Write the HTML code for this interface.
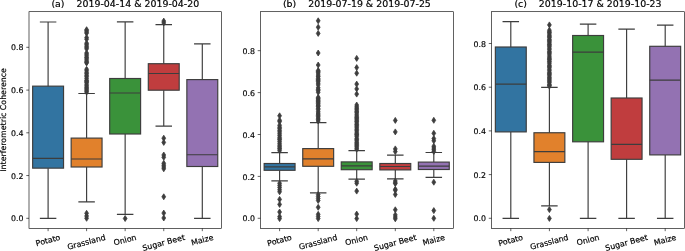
<!DOCTYPE html>
<html><head><meta charset="utf-8"><title>Interferometric Coherence boxplots</title>
<style>html,body{margin:0;padding:0;background:#fff}svg{display:block}</style></head>
<body>
<svg width="685" height="251" viewBox="0 0 685 251" font-family="'DejaVu Sans', 'Liberation Sans', sans-serif">
<rect width="685" height="251" fill="#fff"/>
<style>text{stroke:#000;stroke-width:0.18px;fill:#000}</style>
<defs><path id="d" d="M0 -3.0 L1.9 0 L0 3.0 L-1.9 0 Z" fill="#3d3d3d" stroke="#3d3d3d" stroke-width="0.775" stroke-linejoin="miter"/></defs>
<g stroke="#3d3d3d" stroke-width="1.16" fill="none">
<rect x="32.65" y="86.15" width="30.90" height="82.00" fill="#3274a1"/>
<path d="M48.10 86.15V22.00M48.10 168.15V218.30M39.85 22.00H56.35M39.85 218.30H56.35M32.65 158.45H63.55"/>
</g>
<g stroke="#3d3d3d" stroke-width="1.16" fill="none">
<rect x="71.15" y="138.10" width="30.90" height="28.90" fill="#e1812c"/>
<path d="M86.60 138.10V93.50M86.60 167.00V201.90M78.35 93.50H94.85M78.35 201.90H94.85M71.15 159.00H102.05"/>
</g>
<g><use href="#d" x="86.60" y="29.70"/><use href="#d" x="86.60" y="30.69"/><use href="#d" x="86.60" y="32.04"/><use href="#d" x="86.60" y="33.18"/><use href="#d" x="86.60" y="37.55"/><use href="#d" x="86.60" y="39.26"/><use href="#d" x="86.60" y="43.14"/><use href="#d" x="86.60" y="44.41"/><use href="#d" x="86.60" y="46.11"/><use href="#d" x="86.60" y="47.38"/><use href="#d" x="86.60" y="48.85"/><use href="#d" x="86.60" y="52.94"/><use href="#d" x="86.60" y="54.26"/><use href="#d" x="86.60" y="55.85"/><use href="#d" x="86.60" y="57.36"/><use href="#d" x="86.60" y="58.14"/><use href="#d" x="86.60" y="59.75"/><use href="#d" x="86.60" y="61.15"/><use href="#d" x="86.60" y="62.22"/><use href="#d" x="86.60" y="62.95"/><use href="#d" x="86.60" y="69.28"/><use href="#d" x="86.60" y="70.83"/><use href="#d" x="86.60" y="72.64"/><use href="#d" x="86.60" y="73.81"/><use href="#d" x="86.60" y="75.47"/><use href="#d" x="86.60" y="76.71"/><use href="#d" x="86.60" y="78.53"/><use href="#d" x="86.60" y="80.28"/><use href="#d" x="86.60" y="81.10"/><use href="#d" x="86.60" y="81.96"/><use href="#d" x="86.60" y="82.93"/><use href="#d" x="86.60" y="84.78"/><use href="#d" x="86.60" y="86.01"/><use href="#d" x="86.60" y="87.46"/><use href="#d" x="86.60" y="88.52"/><use href="#d" x="86.60" y="89.83"/><use href="#d" x="86.60" y="90.99"/><use href="#d" x="86.60" y="92.11"/><use href="#d" x="86.60" y="213.30"/><use href="#d" x="86.60" y="216.00"/><use href="#d" x="86.60" y="218.30"/></g>
<g stroke="#3d3d3d" stroke-width="1.16" fill="none">
<rect x="109.70" y="78.50" width="30.90" height="55.50" fill="#3a923a"/>
<path d="M125.15 78.50V21.90M125.15 134.00V214.40M116.90 21.90H133.40M116.90 214.40H133.40M109.70 93.00H140.60"/>
</g>
<g><use href="#d" x="125.15" y="218.50"/></g>
<g stroke="#3d3d3d" stroke-width="1.16" fill="none">
<rect x="148.30" y="63.70" width="30.90" height="26.50" fill="#c03d3e"/>
<path d="M163.75 63.70V24.60M163.75 90.20V126.20M155.50 24.60H172.00M155.50 126.20H172.00M148.30 73.50H179.20"/>
</g>
<g><use href="#d" x="163.75" y="21.10"/><use href="#d" x="163.75" y="22.90"/><use href="#d" x="163.75" y="138.20"/><use href="#d" x="163.75" y="142.40"/><use href="#d" x="163.75" y="155.00"/><use href="#d" x="163.75" y="157.30"/><use href="#d" x="163.75" y="163.30"/><use href="#d" x="163.75" y="165.20"/><use href="#d" x="163.75" y="167.00"/><use href="#d" x="163.75" y="168.80"/><use href="#d" x="163.75" y="196.80"/><use href="#d" x="163.75" y="213.10"/><use href="#d" x="163.75" y="218.00"/></g>
<g stroke="#3d3d3d" stroke-width="1.16" fill="none">
<rect x="186.85" y="79.60" width="30.90" height="86.90" fill="#9372b2"/>
<path d="M202.30 79.60V43.80M202.30 166.50V218.30M194.05 43.80H210.55M194.05 218.30H210.55M186.85 154.75H217.75"/>
</g>
<rect x="29.0" y="11.7" width="192.60" height="216.75" fill="none" stroke="#000" stroke-width="0.62"/>
<path d="M29.0 218.3h-2.71M29.0 175.56h-2.71M29.0 132.8h-2.71M29.0 90.1h-2.71M29.0 47.3h-2.71M48.1 228.45v2.71M86.6 228.45v2.71M125.15 228.45v2.71M163.75 228.45v2.71M202.3 228.45v2.71" stroke="#000" stroke-width="0.62" fill="none"/>
<text x="23.60" y="221.40" font-size="7.85" text-anchor="end">0.0</text>
<text x="23.60" y="178.66" font-size="7.85" text-anchor="end">0.2</text>
<text x="23.60" y="135.90" font-size="7.85" text-anchor="end">0.4</text>
<text x="23.60" y="93.20" font-size="7.85" text-anchor="end">0.6</text>
<text x="23.60" y="50.40" font-size="7.85" text-anchor="end">0.8</text>
<text transform="translate(48.10,240.82) rotate(-15)" y="2.15" font-size="7.85" text-anchor="middle">Potato</text>
<text transform="translate(86.60,242.63) rotate(-15)" y="2.15" font-size="7.85" text-anchor="middle">Grassland</text>
<text transform="translate(125.15,240.54) rotate(-15)" y="2.15" font-size="7.85" text-anchor="middle">Onion</text>
<text transform="translate(163.75,243.19) rotate(-15)" y="2.15" font-size="7.85" text-anchor="middle">Sugar Beet</text>
<text transform="translate(202.30,240.49) rotate(-15)" y="2.15" font-size="7.85" text-anchor="middle">Maize</text>
<text x="125.30" y="7.1" font-size="9.42" text-anchor="middle" style="white-space:pre">(a)    2019-04-14 &amp; 2019-04-20</text>
<g stroke="#3d3d3d" stroke-width="1.16" fill="none">
<rect x="264.15" y="163.50" width="30.90" height="6.80" fill="#3274a1"/>
<path d="M279.60 163.50V152.70M279.60 170.30V180.80M271.35 152.70H287.85M271.35 180.80H287.85M264.15 166.90H295.05"/>
</g>
<g><use href="#d" x="279.60" y="115.80"/><use href="#d" x="279.60" y="120.30"/><use href="#d" x="279.60" y="121.60"/><use href="#d" x="279.60" y="125.30"/><use href="#d" x="279.60" y="127.20"/><use href="#d" x="279.60" y="128.60"/><use href="#d" x="279.60" y="130.39"/><use href="#d" x="279.60" y="131.90"/><use href="#d" x="279.60" y="133.72"/><use href="#d" x="279.60" y="135.45"/><use href="#d" x="279.60" y="137.34"/><use href="#d" x="279.60" y="138.84"/><use href="#d" x="279.60" y="139.74"/><use href="#d" x="279.60" y="141.47"/><use href="#d" x="279.60" y="143.33"/><use href="#d" x="279.60" y="145.11"/><use href="#d" x="279.60" y="146.50"/><use href="#d" x="279.60" y="148.05"/><use href="#d" x="279.60" y="149.01"/><use href="#d" x="279.60" y="150.70"/><use href="#d" x="279.60" y="183.30"/><use href="#d" x="279.60" y="185.40"/><use href="#d" x="279.60" y="187.50"/><use href="#d" x="279.60" y="189.80"/><use href="#d" x="279.60" y="191.80"/><use href="#d" x="279.60" y="199.40"/><use href="#d" x="279.60" y="204.40"/><use href="#d" x="279.60" y="212.00"/><use href="#d" x="279.60" y="216.60"/><use href="#d" x="279.60" y="218.60"/></g>
<g stroke="#3d3d3d" stroke-width="1.16" fill="none">
<rect x="302.75" y="148.60" width="30.90" height="17.70" fill="#e1812c"/>
<path d="M318.20 148.60V122.70M318.20 166.30V192.80M309.95 122.70H326.45M309.95 192.80H326.45M302.75 158.90H333.65"/>
</g>
<g><use href="#d" x="318.20" y="20.80"/><use href="#d" x="318.20" y="27.20"/><use href="#d" x="318.20" y="33.40"/><use href="#d" x="318.20" y="53.00"/><use href="#d" x="318.20" y="65.00"/><use href="#d" x="318.20" y="70.50"/><use href="#d" x="318.20" y="71.54"/><use href="#d" x="318.20" y="72.32"/><use href="#d" x="318.20" y="74.04"/><use href="#d" x="318.20" y="75.93"/><use href="#d" x="318.20" y="76.74"/><use href="#d" x="318.20" y="78.40"/><use href="#d" x="318.20" y="79.59"/><use href="#d" x="318.20" y="80.47"/><use href="#d" x="318.20" y="81.52"/><use href="#d" x="318.20" y="83.15"/><use href="#d" x="318.20" y="84.89"/><use href="#d" x="318.20" y="87.84"/><use href="#d" x="318.20" y="89.40"/><use href="#d" x="318.20" y="90.50"/><use href="#d" x="318.20" y="92.25"/><use href="#d" x="318.20" y="97.34"/><use href="#d" x="318.20" y="98.41"/><use href="#d" x="318.20" y="99.20"/><use href="#d" x="318.20" y="100.62"/><use href="#d" x="318.20" y="101.36"/><use href="#d" x="318.20" y="102.29"/><use href="#d" x="318.20" y="103.48"/><use href="#d" x="318.20" y="104.92"/><use href="#d" x="318.20" y="105.80"/><use href="#d" x="318.20" y="106.55"/><use href="#d" x="318.20" y="108.30"/><use href="#d" x="318.20" y="109.37"/><use href="#d" x="318.20" y="111.22"/><use href="#d" x="318.20" y="113.00"/><use href="#d" x="318.20" y="114.15"/><use href="#d" x="318.20" y="115.40"/><use href="#d" x="318.20" y="116.73"/><use href="#d" x="318.20" y="118.20"/><use href="#d" x="318.20" y="119.62"/><use href="#d" x="318.20" y="120.99"/><use href="#d" x="318.20" y="194.50"/><use href="#d" x="318.20" y="196.50"/><use href="#d" x="318.20" y="198.50"/><use href="#d" x="318.20" y="200.50"/><use href="#d" x="318.20" y="207.30"/><use href="#d" x="318.20" y="214.30"/><use href="#d" x="318.20" y="216.40"/><use href="#d" x="318.20" y="218.60"/></g>
<g stroke="#3d3d3d" stroke-width="1.16" fill="none">
<rect x="341.25" y="161.90" width="30.90" height="7.80" fill="#3a923a"/>
<path d="M356.70 161.90V150.70M356.70 169.70V179.10M348.45 150.70H364.95M348.45 179.10H364.95M341.25 165.90H372.15"/>
</g>
<g><use href="#d" x="356.70" y="58.40"/><use href="#d" x="356.70" y="67.60"/><use href="#d" x="356.70" y="73.20"/><use href="#d" x="356.70" y="84.10"/><use href="#d" x="356.70" y="88.90"/><use href="#d" x="356.70" y="94.10"/><use href="#d" x="356.70" y="105.00"/><use href="#d" x="356.70" y="106.83"/><use href="#d" x="356.70" y="108.14"/><use href="#d" x="356.70" y="109.35"/><use href="#d" x="356.70" y="110.92"/><use href="#d" x="356.70" y="111.90"/><use href="#d" x="356.70" y="112.97"/><use href="#d" x="356.70" y="114.84"/><use href="#d" x="356.70" y="116.16"/><use href="#d" x="356.70" y="117.52"/><use href="#d" x="356.70" y="118.24"/><use href="#d" x="356.70" y="119.43"/><use href="#d" x="356.70" y="120.83"/><use href="#d" x="356.70" y="121.55"/><use href="#d" x="356.70" y="122.99"/><use href="#d" x="356.70" y="124.45"/><use href="#d" x="356.70" y="125.22"/><use href="#d" x="356.70" y="126.68"/><use href="#d" x="356.70" y="127.94"/><use href="#d" x="356.70" y="129.45"/><use href="#d" x="356.70" y="130.57"/><use href="#d" x="356.70" y="132.12"/><use href="#d" x="356.70" y="133.71"/><use href="#d" x="356.70" y="134.44"/><use href="#d" x="356.70" y="135.21"/><use href="#d" x="356.70" y="136.72"/><use href="#d" x="356.70" y="138.57"/><use href="#d" x="356.70" y="139.58"/><use href="#d" x="356.70" y="140.82"/><use href="#d" x="356.70" y="142.24"/><use href="#d" x="356.70" y="143.32"/><use href="#d" x="356.70" y="144.46"/><use href="#d" x="356.70" y="145.53"/><use href="#d" x="356.70" y="146.67"/><use href="#d" x="356.70" y="148.09"/><use href="#d" x="356.70" y="149.15"/><use href="#d" x="356.70" y="181.30"/><use href="#d" x="356.70" y="183.20"/><use href="#d" x="356.70" y="191.10"/><use href="#d" x="356.70" y="214.10"/><use href="#d" x="356.70" y="218.60"/></g>
<g stroke="#3d3d3d" stroke-width="1.16" fill="none">
<rect x="379.85" y="163.50" width="30.90" height="6.40" fill="#c03d3e"/>
<path d="M395.30 163.50V155.20M395.30 169.90V178.95M387.05 155.20H403.55M387.05 178.95H403.55M379.85 166.50H410.75"/>
</g>
<g><use href="#d" x="395.30" y="120.40"/><use href="#d" x="395.30" y="131.90"/><use href="#d" x="395.30" y="148.90"/><use href="#d" x="395.30" y="151.60"/><use href="#d" x="395.30" y="181.00"/><use href="#d" x="395.30" y="182.80"/><use href="#d" x="395.30" y="183.60"/><use href="#d" x="395.30" y="189.30"/><use href="#d" x="395.30" y="190.30"/><use href="#d" x="395.30" y="194.50"/><use href="#d" x="395.30" y="209.80"/><use href="#d" x="395.30" y="214.90"/><use href="#d" x="395.30" y="217.00"/><use href="#d" x="395.30" y="218.80"/></g>
<g stroke="#3d3d3d" stroke-width="1.16" fill="none">
<rect x="418.35" y="162.10" width="30.90" height="7.40" fill="#9372b2"/>
<path d="M433.80 162.10V152.50M433.80 169.50V177.40M425.55 152.50H442.05M425.55 177.40H442.05M418.35 166.20H449.25"/>
</g>
<g><use href="#d" x="433.80" y="120.30"/><use href="#d" x="433.80" y="133.30"/><use href="#d" x="433.80" y="138.60"/><use href="#d" x="433.80" y="140.80"/><use href="#d" x="433.80" y="146.20"/><use href="#d" x="433.80" y="148.00"/><use href="#d" x="433.80" y="149.80"/><use href="#d" x="433.80" y="151.50"/><use href="#d" x="433.80" y="182.20"/><use href="#d" x="433.80" y="210.60"/><use href="#d" x="433.80" y="218.30"/></g>
<rect x="260.4" y="11.7" width="193.00" height="216.75" fill="none" stroke="#000" stroke-width="0.62"/>
<path d="M260.4 218.27h-2.71M260.4 176.4h-2.71M260.4 134.5h-2.71M260.4 92.6h-2.71M260.4 50.66h-2.71M279.6 228.45v2.71M318.2 228.45v2.71M356.7 228.45v2.71M395.3 228.45v2.71M433.8 228.45v2.71" stroke="#000" stroke-width="0.62" fill="none"/>
<text x="255.00" y="221.37" font-size="7.85" text-anchor="end">0.0</text>
<text x="255.00" y="179.50" font-size="7.85" text-anchor="end">0.2</text>
<text x="255.00" y="137.60" font-size="7.85" text-anchor="end">0.4</text>
<text x="255.00" y="95.70" font-size="7.85" text-anchor="end">0.6</text>
<text x="255.00" y="53.76" font-size="7.85" text-anchor="end">0.8</text>
<text transform="translate(279.60,240.82) rotate(-15)" y="2.15" font-size="7.85" text-anchor="middle">Potato</text>
<text transform="translate(318.20,242.63) rotate(-15)" y="2.15" font-size="7.85" text-anchor="middle">Grassland</text>
<text transform="translate(356.70,240.54) rotate(-15)" y="2.15" font-size="7.85" text-anchor="middle">Onion</text>
<text transform="translate(395.30,243.19) rotate(-15)" y="2.15" font-size="7.85" text-anchor="middle">Sugar Beet</text>
<text transform="translate(433.80,240.49) rotate(-15)" y="2.15" font-size="7.85" text-anchor="middle">Maize</text>
<text x="356.90" y="7.1" font-size="9.42" text-anchor="middle" style="white-space:pre">(b)    2019-07-19 &amp; 2019-07-25</text>
<g stroke="#3d3d3d" stroke-width="1.16" fill="none">
<rect x="495.35" y="47.00" width="30.90" height="84.90" fill="#3274a1"/>
<path d="M510.80 47.00V21.55M510.80 131.90V218.30M502.55 21.55H519.05M502.55 218.30H519.05M495.35 84.20H526.25"/>
</g>
<g stroke="#3d3d3d" stroke-width="1.16" fill="none">
<rect x="533.95" y="132.75" width="30.90" height="29.65" fill="#e1812c"/>
<path d="M549.40 132.75V87.40M549.40 162.40V205.90M541.15 87.40H557.65M541.15 205.90H557.65M533.95 151.55H564.85"/>
</g>
<g><use href="#d" x="549.40" y="24.90"/><use href="#d" x="549.40" y="30.20"/><use href="#d" x="549.40" y="31.83"/><use href="#d" x="549.40" y="32.56"/><use href="#d" x="549.40" y="33.94"/><use href="#d" x="549.40" y="35.52"/><use href="#d" x="549.40" y="36.60"/><use href="#d" x="549.40" y="37.56"/><use href="#d" x="549.40" y="39.23"/><use href="#d" x="549.40" y="40.21"/><use href="#d" x="549.40" y="41.14"/><use href="#d" x="549.40" y="42.36"/><use href="#d" x="549.40" y="43.90"/><use href="#d" x="549.40" y="44.72"/><use href="#d" x="549.40" y="45.81"/><use href="#d" x="549.40" y="46.91"/><use href="#d" x="549.40" y="48.61"/><use href="#d" x="549.40" y="49.83"/><use href="#d" x="549.40" y="51.56"/><use href="#d" x="549.40" y="52.46"/><use href="#d" x="549.40" y="53.57"/><use href="#d" x="549.40" y="55.05"/><use href="#d" x="549.40" y="56.81"/><use href="#d" x="549.40" y="58.05"/><use href="#d" x="549.40" y="59.02"/><use href="#d" x="549.40" y="59.87"/><use href="#d" x="549.40" y="61.20"/><use href="#d" x="549.40" y="62.13"/><use href="#d" x="549.40" y="63.80"/><use href="#d" x="549.40" y="65.51"/><use href="#d" x="549.40" y="66.43"/><use href="#d" x="549.40" y="67.46"/><use href="#d" x="549.40" y="69.13"/><use href="#d" x="549.40" y="70.60"/><use href="#d" x="549.40" y="72.27"/><use href="#d" x="549.40" y="73.38"/><use href="#d" x="549.40" y="74.24"/><use href="#d" x="549.40" y="75.29"/><use href="#d" x="549.40" y="76.94"/><use href="#d" x="549.40" y="77.97"/><use href="#d" x="549.40" y="79.08"/><use href="#d" x="549.40" y="80.28"/><use href="#d" x="549.40" y="81.49"/><use href="#d" x="549.40" y="82.68"/><use href="#d" x="549.40" y="84.48"/><use href="#d" x="549.40" y="85.37"/><use href="#d" x="549.40" y="86.07"/><use href="#d" x="549.40" y="209.60"/><use href="#d" x="549.40" y="218.40"/></g>
<g stroke="#3d3d3d" stroke-width="1.16" fill="none">
<rect x="572.65" y="35.50" width="30.90" height="106.30" fill="#3a923a"/>
<path d="M588.10 35.50V24.20M588.10 141.80V218.30M579.85 24.20H596.35M579.85 218.30H596.35M572.65 52.10H603.55"/>
</g>
<g stroke="#3d3d3d" stroke-width="1.16" fill="none">
<rect x="611.15" y="98.00" width="30.90" height="61.30" fill="#c03d3e"/>
<path d="M626.60 98.00V29.20M626.60 159.30V218.30M618.35 29.20H634.85M618.35 218.30H634.85M611.15 144.30H642.05"/>
</g>
<g stroke="#3d3d3d" stroke-width="1.16" fill="none">
<rect x="649.75" y="46.30" width="30.90" height="108.60" fill="#9372b2"/>
<path d="M665.20 46.30V25.15M665.20 154.90V218.30M656.95 25.15H673.45M656.95 218.30H673.45M649.75 80.20H680.65"/>
</g>
<rect x="491.5" y="11.7" width="192.90" height="216.75" fill="none" stroke="#000" stroke-width="0.62"/>
<path d="M491.5 218.27h-2.71M491.5 174.6h-2.71M491.5 130.9h-2.71M491.5 87.2h-2.71M491.5 43.5h-2.71M510.8 228.45v2.71M549.4 228.45v2.71M588.1 228.45v2.71M626.6 228.45v2.71M665.2 228.45v2.71" stroke="#000" stroke-width="0.62" fill="none"/>
<text x="486.10" y="221.37" font-size="7.85" text-anchor="end">0.0</text>
<text x="486.10" y="177.70" font-size="7.85" text-anchor="end">0.2</text>
<text x="486.10" y="134.00" font-size="7.85" text-anchor="end">0.4</text>
<text x="486.10" y="90.30" font-size="7.85" text-anchor="end">0.6</text>
<text x="486.10" y="46.60" font-size="7.85" text-anchor="end">0.8</text>
<text transform="translate(510.80,240.82) rotate(-15)" y="2.15" font-size="7.85" text-anchor="middle">Potato</text>
<text transform="translate(549.40,242.63) rotate(-15)" y="2.15" font-size="7.85" text-anchor="middle">Grassland</text>
<text transform="translate(588.10,240.54) rotate(-15)" y="2.15" font-size="7.85" text-anchor="middle">Onion</text>
<text transform="translate(626.60,243.19) rotate(-15)" y="2.15" font-size="7.85" text-anchor="middle">Sugar Beet</text>
<text transform="translate(665.20,240.49) rotate(-15)" y="2.15" font-size="7.85" text-anchor="middle">Maize</text>
<text x="587.95" y="7.1" font-size="9.42" text-anchor="middle" style="white-space:pre">(c)    2019-10-17 &amp; 2019-10-23</text>
<text transform="translate(5.7,119.9) rotate(-90)" font-size="7.85" text-anchor="middle">Interferometric Coherence</text>
</svg>
</body></html>
